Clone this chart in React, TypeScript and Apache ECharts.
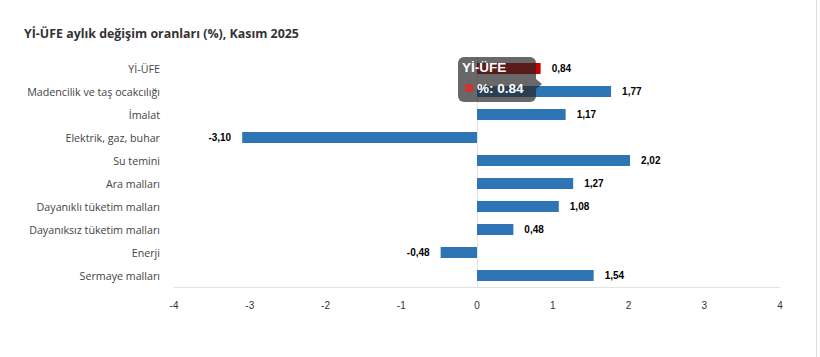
import React, { useEffect, useRef } from "react";
import * as echarts from "echarts";

const categories = [
  "Yİ-ÜFE",
  "Madencilik ve taş ocakcılığı",
  "İmalat",
  "Elektrik, gaz, buhar",
  "Su temini",
  "Ara malları",
  "Dayanıklı tüketim malları",
  "Dayanıksız tüketim malları",
  "Enerji",
  "Sermaye malları",
];
const values = [0.84, 1.77, 1.17, -3.1, 2.02, 1.27, 1.08, 0.48, -0.48, 1.54];
const xTicks = { min: -4, max: 4, interval: 1 };
const titleText = "Yİ-ÜFE aylık değişim oranları (%), Kasım 2025";
const tooltipTitle = "Yİ-ÜFE";
const tooltipValue = "%: 0.84";

export default function App() {
  const ref = useRef<HTMLDivElement>(null);
  useEffect(() => {
    if (!ref.current) return;
    const chart = echarts.init(ref.current, null, { renderer: "svg" });
    const fmt = (v: number) => v.toFixed(2).replace(".", ",");
    chart.setOption({
      animation: false,
      backgroundColor: "#ffffff",
      title: {
        text: titleText,
        left: 19,
        top: 22,
        textStyle: {
          fontFamily: "Open Sans",
          fontSize: 12.4,
          fontWeight: "bold",
          color: "#333333",
        },
      },
      grid: { left: 174, top: 57, width: 606, height: 230, containLabel: false },
      xAxis: {
        type: "value",
        min: xTicks.min,
        max: xTicks.max,
        interval: xTicks.interval,
        axisLine: { show: true, lineStyle: { color: "#e3e3e3", width: 1 } },
        axisTick: { show: false },
        splitLine: { show: false },
        axisLabel: {
          margin: 13,
          fontFamily: "Liberation Sans",
          fontSize: 10,
          color: "#333333",
        },
      },
      yAxis: {
        type: "category",
        inverse: true,
        data: categories,
        axisLine: { show: true, lineStyle: { color: "#e3e3e3", width: 1 } },
        axisTick: { show: false },
        axisLabel: {
          margin: 14,
          fontFamily: "Open Sans",
          fontSize: 10.7,
          color: "#444444",
        },
      },
      series: [
        {
          type: "bar",
          barWidth: 11,
          data: values.map((v, i) => ({
            value: v,
            itemStyle: { color: i === 0 ? "#cc0000" : "#2e75b6" },
            label: { position: v >= 0 ? "right" : "left" },
          })),
          label: {
            show: true,
            distance: 11,
            fontFamily: "Liberation Sans",
            fontSize: 10,
            fontWeight: "bold",
            color: "#000000",
            formatter: (p: any) => fmt(p.value),
          },
        },
      ],
      graphic: [
        {
          type: "line",
          shape: { x1: 816.5, y1: 0, x2: 816.5, y2: 357 },
          style: { stroke: "#dddddd", lineWidth: 1 },
          z: 10,
        },
        {
          type: "rect",
          shape: { x: 458, y: 57, width: 78, height: 45, r: 6 },
          style: { fill: "rgba(40,40,40,0.7)" },
          z: 100,
        },
        {
          type: "polygon",
          shape: { points: [[536, 79], [542, 84], [536, 89]] },
          style: { fill: "rgba(40,40,40,0.7)" },
          z: 100,
        },
        {
          type: "text",
          x: 462,
          y: 60,
          style: {
            text: tooltipTitle,
            fill: "#ffffff",
            fontFamily: "Liberation Sans",
            fontSize: 13.5,
            fontWeight: "bold",
          },
          z: 101,
        },
        {
          type: "rect",
          shape: { x: 465, y: 84, width: 8, height: 8 },
          style: { fill: "#cc3333" },
          z: 101,
        },
        {
          type: "text",
          x: 477,
          y: 81,
          style: {
            text: tooltipValue,
            fill: "#ffffff",
            fontFamily: "Liberation Sans",
            fontSize: 13.5,
            fontWeight: "bold",
          },
          z: 101,
        },
      ],
    });
    return () => chart.dispose();
  }, []);
  return (
    <div
      ref={ref}
      style={{ position: "fixed", left: 0, top: 0, width: 820, height: 357 }}
    />
  );
}
